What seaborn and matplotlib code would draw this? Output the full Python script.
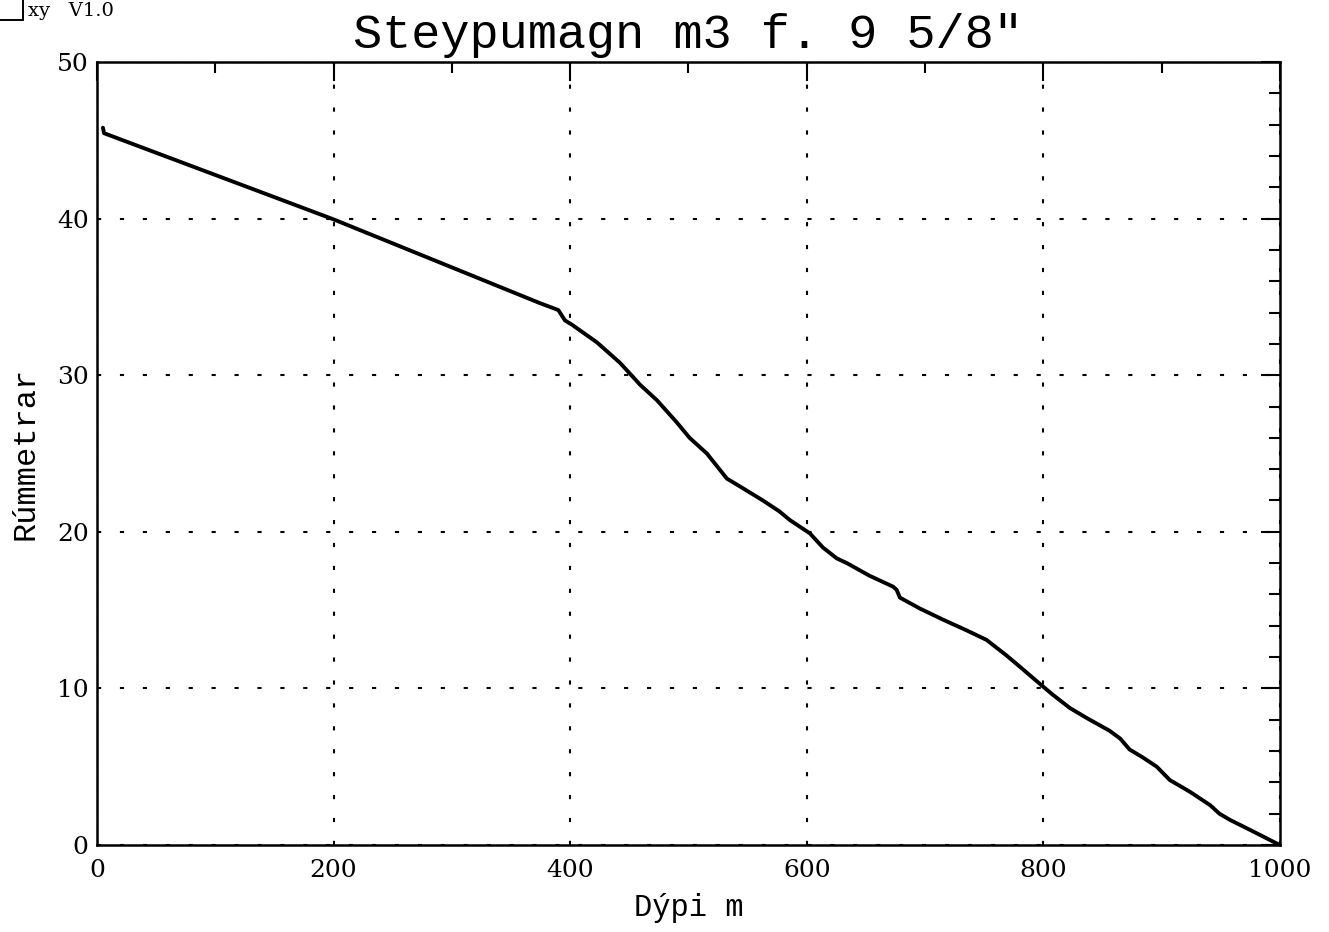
import matplotlib
matplotlib.use("Agg")
import matplotlib.pyplot as plt
from matplotlib.ticker import MultipleLocator
from matplotlib.patches import Rectangle
import seaborn as sns
import pandas as pd

title = "Steypumagn m3 f. 9 5/8\u2033"
xlabel = "Dýpi m"
ylabel = "Rúmmetrar"

depth = [5, 6, 200, 374.5, 390, 395.6, 402, 422.6, 442, 453, 459, 473.4, 490, 501,
         515.6, 532.5, 543.5, 563, 577, 585.8, 602.7, 613.7, 625.5, 634, 653, 673,
         676, 678.8, 695.7, 715, 735.4, 752, 769, 780, 797, 808, 822.5, 837, 856,
         865, 873, 884, 896, 907, 924, 941, 949, 958, 975, 1000]
volume = [45.8, 45.45, 39.95, 34.6, 34.16, 33.5, 33.2, 32.1, 30.8, 29.9, 29.4, 28.4,
          27.0, 26.0, 25.0, 23.4, 22.9, 22.0, 21.3, 20.75, 19.9, 19.0, 18.3, 18.0,
          17.2, 16.5, 16.3, 15.8, 15.1, 14.4, 13.7, 13.1, 12.1, 11.4, 10.3, 9.6,
          8.75, 8.1, 7.3, 6.8, 6.1, 5.6, 5.0, 4.15, 3.4, 2.55, 2.0, 1.6, 0.96, 0.0]

df = pd.DataFrame({"depth": depth, "volume": volume})

sns.set_theme(style="white")
plt.rcParams["font.family"] = ["Liberation Mono", "DejaVu Sans Mono"]

fig = plt.figure(figsize=(13.29, 9.32), dpi=100)
ax = fig.add_axes([0.073, 0.0933, 0.890, 0.8402])

sns.lineplot(data=df, x="depth", y="volume", sort=False, estimator=None,
             color="black", linewidth=2.8, ax=ax)

ax.set_xlim(0, 1000)
ax.set_ylim(0, 50)
ax.xaxis.set_major_locator(MultipleLocator(200))
ax.xaxis.set_minor_locator(MultipleLocator(100))
ax.yaxis.set_major_locator(MultipleLocator(10))
ax.yaxis.set_minor_locator(MultipleLocator(2))
ax.tick_params(which="both", direction="in", top=True, right=True,
               color="black", width=1.5)
ax.tick_params(which="major", length=14)
ax.tick_params(which="minor", length=8)
ax.tick_params(axis="x", which="major", pad=10)
ax.tick_params(axis="y", which="major", pad=6)
for lab in ax.get_xticklabels() + ax.get_yticklabels():
    lab.set_fontfamily("DejaVu Serif")
    lab.set_fontsize(18)
    lab.set_color("black")

ax.grid(True, which="major", color="black", linestyle=(0, (2, 9)), linewidth=1.5)
for s in ax.spines.values():
    s.set_color("black")
    s.set_linewidth(1.8)

ax.set_xlabel(xlabel, fontsize=22, color="black", labelpad=8)
ax.set_ylabel(ylabel, fontsize=23, color="black", labelpad=12)
ax.set_title(title, fontsize=35, color="black", pad=10)

# small logo at the top-left corner
fig.add_artist(Rectangle((-0.002, 0.979), 0.019, 0.03, transform=fig.transFigure,
                         fill=False, edgecolor="black", linewidth=1.4))
fig.text(0.021, 0.988, "xy   V1.0", fontsize=14, fontfamily="DejaVu Serif",
         color="black", va="center")

fig.savefig("out.png", dpi=100, facecolor="white")
